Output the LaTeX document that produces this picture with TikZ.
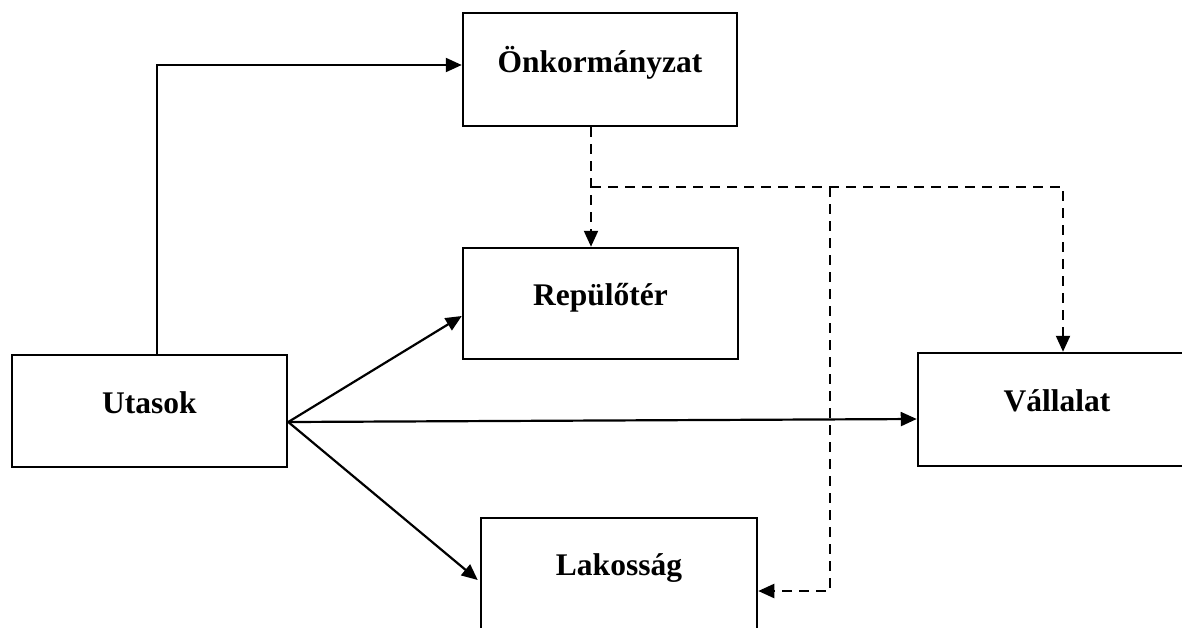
\documentclass[tikz,border=0pt]{standalone}
\usepackage{fontspec}
\setmainfont{Liberation Serif}
\usetikzlibrary{arrows.meta}
\begin{document}
\begin{tikzpicture}[x=1pt,y=-1pt,
  box/.style={draw,line width=2.5pt,inner sep=0pt,minimum width=#1,
    font=\fontsize{31.5}{36}\selectfont\bfseries},
  arr/.style={line width=2.2pt,-{Triangle[length=16pt,width=14pt]}},
  dsh/.style={line width=2.2pt,dash pattern=on 10pt off 7pt},
  darr/.style={dsh,-{Triangle[length=16pt,width=14pt]}}]
\useasboundingbox (0,0) rectangle (1182,627);
\clip (0,0) rectangle (1182,627);
% boxes (text height/depth place the baseline as in the reference)
\node[box=274pt,text height=59pt,text depth=54pt] (onk) at (600,69.5) {Önkormányzat};
\node[box=275pt,text height=57pt,text depth=54pt] (rep) at (600.5,303.5) {Repülőtér};
\node[box=275pt,text height=58pt,text depth=54pt] (uta) at (149.5,411) {Utasok};
\node[box=278pt,text height=58pt,text depth=55pt] (val) at (1057,409.5) {Vállalat};
\node[box=276pt,text height=57pt,text depth=54pt] (lak) at (619,573.5) {Lakosság};
% solid connectors
\coordinate (j) at (uta.east |- 0,422);
\draw[arr] (uta.north -| 157,0) |- (onk.west |- 0,65);
\draw[arr] (j) -- (rep.west |- 0,316);
\draw[arr] (j) -- (val.west |- 0,419);
\draw[arr] (j) -- ([xshift=-2pt]lak.west |- 0,580);
% dashed connectors
\coordinate (d1) at (591,187);
\coordinate (d2) at (830,187);
\draw[darr] (onk.south -| 591,0) -- (rep.north -| 591,0);
\draw[darr] (d1) -| (val.north -| 1063,0);
\draw[darr] (d2) |- (lak.east |- 0,591);
\end{tikzpicture}
\end{document}
